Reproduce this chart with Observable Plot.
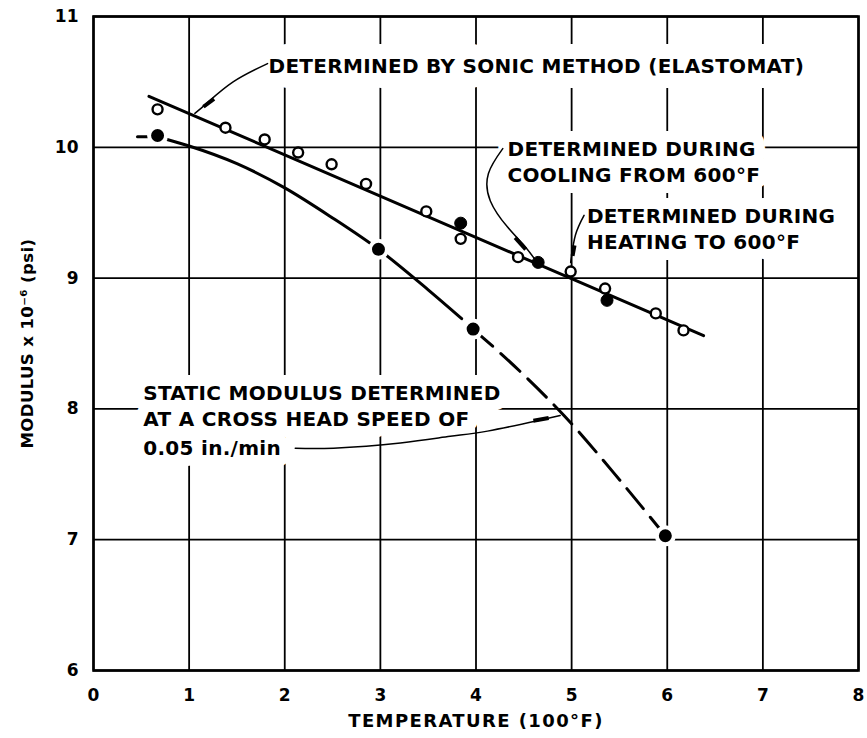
<!DOCTYPE html>
<html>
<head>
<meta charset="utf-8">
<script src="https://cdn.jsdelivr.net/npm/d3@7"></script>
<script src="https://cdn.jsdelivr.net/npm/@observablehq/plot@0.6"></script>
<style>
  html, body { margin: 0; padding: 0; background: #fff; }
  #chart svg { display: block; }
  #chart g[aria-label="text"] text { letter-spacing: 0.3px; }
  #chart g[aria-label*="axis"] text { font-size: 17px; }
  #chart g[aria-label="x-axis label"] text { font-size: 18px; letter-spacing: 1.4px; }
  #chart g[aria-label="y-axis label"] text { font-size: 16.5px; letter-spacing: 0.4px; }
</style>
</head>
<body>
<div id="chart"></div>
<script>
// Axis ticks
const xTicks = [0, 1, 2, 3, 4, 5, 6, 7, 8];
const yTicks = [6, 7, 8, 9, 10, 11];

// Sonic (Elastomat) modulus, measured during heating to 600°F (open circles)
const heatTemp = [0.67, 1.38, 1.79, 2.14, 2.49, 2.85, 3.48, 3.84, 4.44, 4.99, 5.35, 5.88, 6.17];
const heatMod  = [10.29, 10.15, 10.06, 9.96, 9.87, 9.72, 9.51, 9.30, 9.16, 9.05, 8.92, 8.73, 8.60];

// Sonic modulus, measured during cooling from 600°F (filled circles)
const coolTemp = [3.84, 4.65, 5.37];
const coolMod  = [9.42, 9.12, 8.83];

// Static modulus at 0.05 in./min cross head speed
const staticTemp = [0.67, 2.98, 3.97, 5.98];
const staticMod  = [10.09, 9.22, 8.61, 7.03];

// Fitted sonic line
const sonicFitTemp = [0.58, 6.38];
const sonicFitMod  = [10.39, 8.56];

// Static curve: short lead-in dash, solid part, dashed extrapolation
const stubTemp = [0.46, 0.58];
const stubMod  = [10.08, 10.08];
const staticSolidTemp = [0.77, 1.0, 1.5, 2.0, 2.5, 2.98, 3.5, 3.85];
const staticSolidMod  = [10.06, 10.01, 9.875, 9.69, 9.46, 9.22, 8.91, 8.69];
const staticDashTemp = [3.97, 4.08, 4.47, 4.92, 5.51, 5.98];
const staticDashMod  = [8.61, 8.54, 8.28, 7.95, 7.45, 7.03];

// Annotation text
const sonicNote = ["DETERMINED BY SONIC METHOD (ELASTOMAT)"];
const sonicNoteTemp = [1.83];
const sonicNoteMod  = [10.62];

const noteText = [
  "DETERMINED DURING",
  "COOLING FROM 600°F",
  "DETERMINED DURING",
  "HEATING TO 600°F",
  "STATIC MODULUS DETERMINED",
  "AT A CROSS HEAD SPEED OF",
  "0.05 in./min"
];
const noteTemp = [4.33, 4.33, 5.16, 5.16, 0.52, 0.52, 0.52];
const noteMod  = [9.98, 9.78, 9.47, 9.27, 8.12, 7.92, 7.70];

// Leader lines from the notes to the curves
const leaderId   = ["sonic","sonic","sonic","sonic",
                    "cool","cool","cool","cool","cool","cool",
                    "heat","heat","heat",
                    "static","static","static","static","static","static","static"];
const leaderTemp = [1.82, 1.46, 1.19, 1.06,
                    4.28, 4.13, 4.15, 4.33, 4.49, 4.61,
                    5.13, 5.04, 4.99,
                    2.11, 2.51, 3.21, 3.73, 4.12, 4.64, 4.88];
const leaderMod  = [10.64, 10.50, 10.34, 10.26,
                    9.99, 9.80, 9.59, 9.39, 9.26, 9.15,
                    9.48, 9.33, 9.12,
                    7.70, 7.70, 7.74, 7.79, 7.83, 7.91, 7.95];

// Arrow barbs on the leaders
const barbId   = ["sonic","sonic","cool","cool","heat","heat","static","static"];
const barbTemp = [1.15, 1.26, 4.41, 4.52, 5.03, 5.01, 4.60, 4.76];
const barbMod  = [10.31, 10.37, 9.31, 9.22, 9.25, 9.17, 7.91, 7.93];

const zip = (xs, ys, extra = {}) => xs.map((x, i) => {
  const row = {x, y: ys[i]};
  for (const k in extra) row[k] = extra[k][i];
  return row;
});

const heat = zip(heatTemp, heatMod);
const cool = zip(coolTemp, coolMod);
const stat = zip(staticTemp, staticMod);
const sonicFit = zip(sonicFitTemp, sonicFitMod);
const stub = zip(stubTemp, stubMod);
const staticSolid = zip(staticSolidTemp, staticSolidMod);
const staticDash = zip(staticDashTemp, staticDashMod);
const sonicLabel = zip(sonicNoteTemp, sonicNoteMod, {text: sonicNote});
const notes = zip(noteTemp, noteMod, {text: noteText});
const leaders = zip(leaderTemp, leaderMod, {id: leaderId});
const barbs = zip(barbTemp, barbMod, {id: barbId});

const font = "'DejaVu Sans', 'Liberation Sans', sans-serif";
const noteStyle = {
  x: "x", y: "y", text: "text", textAnchor: "start", lineAnchor: "middle",
  fontSize: 20, fontWeight: "bold", fill: "#000", stroke: "#fff", strokeLinejoin: "round"
};

const chart = Plot.plot({
  width: 867,
  height: 738,
  marginTop: 16,
  marginRight: 9,
  marginBottom: 68,
  marginLeft: 93,
  style: {fontFamily: font, fontWeight: "bold", fontSize: "17px", background: "#fff", color: "#000"},
  x: {domain: [0, 8]},
  y: {domain: [6, 11]},
  marks: [
    Plot.gridX(xTicks, {stroke: "#000", strokeOpacity: 1, strokeWidth: 1.8}),
    Plot.gridY(yTicks, {stroke: "#000", strokeOpacity: 1, strokeWidth: 1.8}),
    Plot.axisX({
      ticks: xTicks, tickSize: 0, tickPadding: 18, tickFormat: d => String(d),
      label: "TEMPERATURE (100°F)", labelAnchor: "center", labelArrow: "none", labelOffset: 56
    }),
    Plot.axisY({
      ticks: yTicks, tickSize: 0, tickPadding: 15, tickFormat: d => String(d),
      label: "MODULUS x 10⁻⁶ (psi)", labelAnchor: "center", labelArrow: "none", labelOffset: 72
    }),
    Plot.frame({stroke: "#000", strokeWidth: 2.6}),
    // notes, with a white knock-out behind the lettering
    Plot.text(sonicLabel, {...noteStyle, strokeWidth: 30}),
    Plot.text(notes, {...noteStyle, strokeWidth: 22}),
    // leaders and barbs
    Plot.line(leaders, {x: "x", y: "y", z: "id", curve: "natural", stroke: "#000", strokeWidth: 1.5}),
    Plot.line(barbs, {x: "x", y: "y", z: "id", stroke: "#000", strokeWidth: 4, strokeLinecap: "butt"}),
    // sonic fit line
    Plot.line(sonicFit, {x: "x", y: "y", stroke: "#000", strokeWidth: 3}),
    // static curve
    Plot.line(stub, {x: "x", y: "y", stroke: "#000", strokeWidth: 3}),
    Plot.line(staticSolid, {x: "x", y: "y", curve: "monotone-x", stroke: "#000", strokeWidth: 3}),
    Plot.line(staticDash, {x: "x", y: "y", curve: "monotone-x", stroke: "#000", strokeWidth: 3, strokeDasharray: "26,11"}),
    // points
    Plot.dot(heat, {x: "x", y: "y", r: 5, fill: "#fff", stroke: "#000", strokeWidth: 2.4}),
    Plot.dot(cool, {x: "x", y: "y", r: 6, fill: "#000", stroke: "#000", strokeWidth: 1}),
    Plot.dot(stat, {x: "x", y: "y", r: 8.5, fill: "#000", stroke: "#fff", strokeWidth: 4})
  ]
});

document.getElementById("chart").appendChild(chart);
</script>
</body>
</html>
